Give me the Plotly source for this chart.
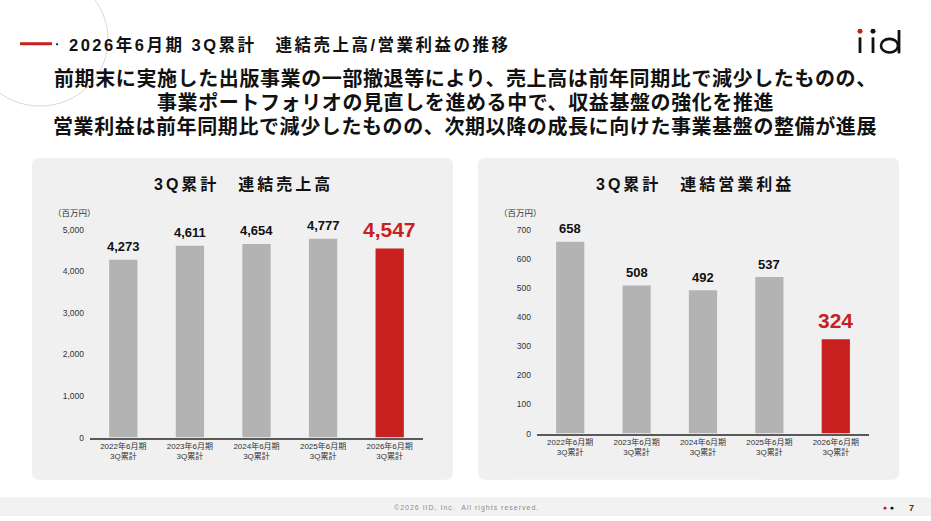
import plotly.graph_objects as go

W, H = 931, 521

categories = ["2022年6月期<br>3Q累計", "2023年6月期<br>3Q累計", "2024年6月期<br>3Q累計",
              "2025年6月期<br>3Q累計", "2026年6月期<br>3Q累計"]
sales = [4273, 4611, 4654, 4777, 4547]
op_income = [658, 508, 492, 537, 324]
sales_ticks = [0, 1000, 2000, 3000, 4000, 5000]
op_ticks = [0, 100, 200, 300, 400, 500, 600, 700]

page_title = "2026年6月期 3Q累計　連結売上高/営業利益の推移"
headline = [
    "前期末に実施した出版事業の一部撤退等により、売上高は前年同期比で減少したものの、",
    "事業ポートフォリオの見直しを進める中で、収益基盤の強化を推進",
    "営業利益は前年同期比で減少したものの、次期以降の成長に向けた事業基盤の整備が進展",
]
left_title = "3Q累計　連結売上高"
right_title = "3Q累計　連結営業利益"
unit = "（百万円）"
footer = "©2026 IID, Inc.  All rights reserved."

GRAY = "#b3b3b3"
RED = "#c81f1f"
FONT = "Liberation Sans, Arial, Noto Sans CJK JP, sans-serif"
JFONT = "Noto Sans CJK JP, Liberation Sans, sans-serif"


def px(x):
    return x / W


def py(y):
    return 1 - y / H


def spaced(t, sp):
    return f'<span style="letter-spacing:{sp}px">{t}</span>'


def rrect(x0, y0, x1, y1, r, color):
    X0, X1 = px(x0), px(x1)
    Y0, Y1 = py(y0), py(y1)
    rx, ry = r / W, r / H
    path = (f"M {X0+rx},{Y0} L {X1-rx},{Y0} Q {X1},{Y0} {X1},{Y0-ry} "
            f"L {X1},{Y1+ry} Q {X1},{Y1} {X1-rx},{Y1} L {X0+rx},{Y1} "
            f"Q {X0},{Y1} {X0},{Y1+ry} L {X0},{Y0-ry} Q {X0},{Y0} {X0+rx},{Y0} Z")
    return dict(type="path", xref="paper", yref="paper", path=path,
                fillcolor=color, line=dict(width=0), layer="below")


colors = [GRAY] * (len(categories) - 1) + [RED]

fig = go.Figure()
fig.add_trace(go.Bar(x=categories, y=sales, marker=dict(color=colors, line=dict(width=0)),
                     xaxis="x", yaxis="y", hoverinfo="skip"))
fig.add_trace(go.Bar(x=categories, y=op_income, marker=dict(color=colors, line=dict(width=0)),
                     xaxis="x2", yaxis="y2", hoverinfo="skip"))

annotations = []
for xr, yr, vals in (("x", "y", sales), ("x2", "y2", op_income)):
    for i, (c, v) in enumerate(zip(categories, vals)):
        last = i == len(categories) - 1
        annotations.append(dict(x=c, y=v, xref=xr, yref=yr, text=f"{v:,}", showarrow=False,
                                xanchor="center", yanchor="middle", yshift=19 if last else 13,
                                font=dict(family=FONT, size=21 if last else 13,
                                          color=RED if last else "#111111", weight="bold")))

# header
annotations.append(dict(x=px(67), y=py(40), xref="paper", yref="paper", text=spaced(page_title, 2.5),
                        showarrow=False, xanchor="left", yanchor="middle",
                        font=dict(family=FONT, size=16.5, color="#111111", weight="bold")))
for yy, line in zip([75, 100, 124], headline):
    annotations.append(dict(x=px(465), y=py(yy), xref="paper", yref="paper",
                            text=spaced(line, 0.6),
                            showarrow=False, xanchor="center", yanchor="middle",
                            font=dict(family=FONT, size=20, color="#111111", weight="bold")))
# panel titles
annotations.append(dict(x=px(243), y=py(182), xref="paper", yref="paper", text=spaced(left_title, 3),
                        showarrow=False, xanchor="center", yanchor="middle",
                        font=dict(family=FONT, size=16, color="#111111", weight="bold")))
annotations.append(dict(x=px(695), y=py(182), xref="paper", yref="paper", text=spaced(right_title, 3),
                        showarrow=False, xanchor="center", yanchor="middle",
                        font=dict(family=FONT, size=16, color="#111111", weight="bold")))
annotations.append(dict(x=px(74), y=py(211), xref="paper", yref="paper", text=unit,
                        showarrow=False, xanchor="center", yanchor="middle",
                        font=dict(family=JFONT, size=8.5, color="#333333")))
annotations.append(dict(x=px(520), y=py(211), xref="paper", yref="paper", text=unit,
                        showarrow=False, xanchor="center", yanchor="middle",
                        font=dict(family=JFONT, size=8.5, color="#333333")))
# footer
annotations.append(dict(x=px(466), y=py(513), xref="paper", yref="paper", text=spaced(footer, 1),
                        showarrow=False, xanchor="center", yanchor="middle",
                        font=dict(family=FONT, size=7, color="#8c8c8c")))
annotations.append(dict(x=px(911), y=py(513), xref="paper", yref="paper", text="7",
                        showarrow=False, xanchor="center", yanchor="middle",
                        font=dict(family=FONT, size=9, color="#333333", weight="bold")))

shapes = [
    rrect(32, 156, 453, 484, 7, "#f0f0f0"),
    rrect(478, 156, 899, 484, 7, "#f0f0f0"),
    dict(type="rect", xref="paper", yref="paper", x0=0, x1=1, y0=py(521), y1=py(502),
         fillcolor="#f2f2f2", line=dict(width=0), layer="below"),
    dict(type="circle", xref="paper", yref="paper", x0=px(40 - 68), x1=px(40 + 68),
         y0=py(35 + 68), y1=py(35 - 68), line=dict(color="#d9d9d9", width=1), layer="below"),
    dict(type="line", xref="paper", yref="paper", x0=px(20), x1=px(52), y0=py(39.5), y1=py(39.5),
         line=dict(color=RED, width=3)),
    dict(type="circle", xref="paper", yref="paper", x0=px(56), x1=px(58.2), y0=py(41.1), y1=py(38.9),
         fillcolor="#111111", line=dict(width=0)),
    # logo iid
    dict(type="line", xref="paper", yref="paper", x0=px(860), x1=px(860), y0=py(33), y1=py(49),
         line=dict(color="#111111", width=2.8)),
    dict(type="line", xref="paper", yref="paper", x0=px(873), x1=px(873), y0=py(33), y1=py(49),
         line=dict(color="#111111", width=2.8)),
    dict(type="circle", xref="paper", yref="paper", x0=px(857.5), x1=px(862.5), y0=py(29.2), y1=py(24.2),
         fillcolor=RED, line=dict(width=0)),
    dict(type="circle", xref="paper", yref="paper", x0=px(870.5), x1=px(875.5), y0=py(29.2), y1=py(24.2),
         fillcolor="#111111", line=dict(width=0)),
    dict(type="circle", xref="paper", yref="paper", x0=px(881), x1=px(898), y0=py(48.5), y1=py(34.5),
         line=dict(color="#111111", width=2.6)),
    dict(type="line", xref="paper", yref="paper", x0=px(899), x1=px(899), y0=py(25.5), y1=py(49.3),
         line=dict(color="#111111", width=2.8)),
    # footer dots
    dict(type="circle", xref="paper", yref="paper", x0=px(883.5), x1=px(886.5), y0=py(514.5), y1=py(511.5),
         fillcolor=RED, line=dict(width=0)),
    dict(type="circle", xref="paper", yref="paper", x0=px(890.5), x1=px(893.5), y0=py(514.5), y1=py(511.5),
         fillcolor="#111111", line=dict(width=0)),
]

xax = dict(showline=True, linecolor="#595959", linewidth=1.5, showgrid=False, zeroline=False,
           ticks="", tickfont=dict(family=FONT, size=8, color="#333333"), fixedrange=True)
yax_common = dict(showline=False, showgrid=False, zeroline=False, ticks="",
                  tickfont=dict(family=FONT, size=8.5, color="#333333"), tickformat=",d",
                  ticklabelstandoff=5, fixedrange=True)

fig.update_layout(
    width=W, height=H, margin=dict(l=0, r=0, t=0, b=0),
    paper_bgcolor="white", plot_bgcolor="rgba(0,0,0,0)",
    showlegend=False, bargap=0.575,
    xaxis=dict(domain=[px(90), px(423)], anchor="y", **xax),
    yaxis=dict(domain=[py(441), py(229)], range=[0, 5000], tickvals=sales_ticks, anchor="x", **yax_common),
    xaxis2=dict(domain=[px(537), px(869)], anchor="y2", **xax),
    yaxis2=dict(domain=[py(437), py(229)], range=[0, 700], tickvals=op_ticks, anchor="x2", **yax_common),
    annotations=annotations, shapes=shapes,
)
fig.update_traces(cliponaxis=False)

fig.write_html("out.html", config={"displayModeBar": False},
               post_script="document.body.style.margin='0';document.body.style.padding='0';")
